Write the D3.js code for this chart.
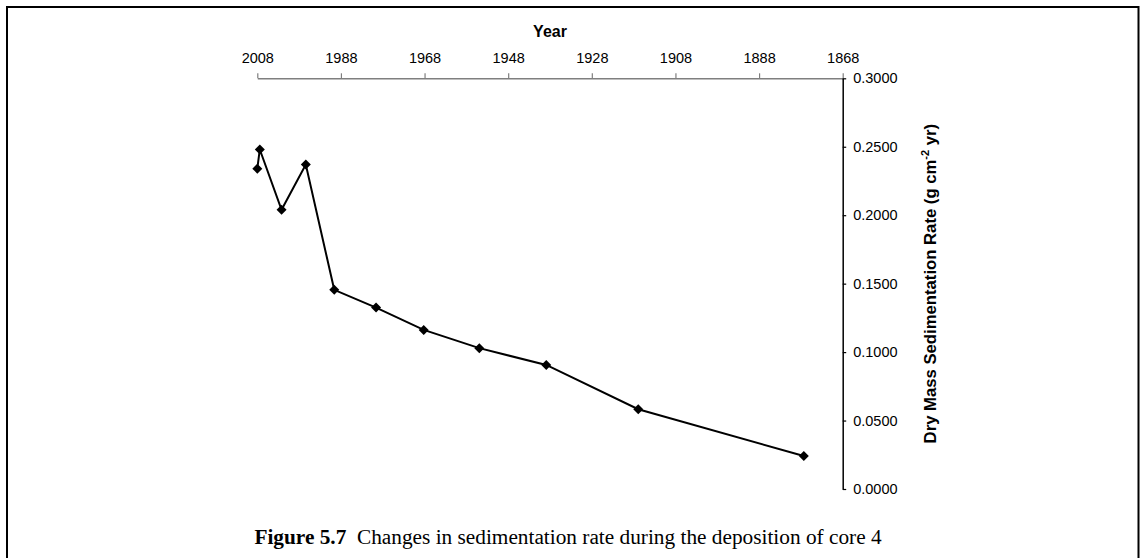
<!DOCTYPE html>
<html>
<head>
<meta charset="utf-8">
<script src="https://cdn.jsdelivr.net/npm/d3@7"></script>
<style>
  html, body { margin: 0; padding: 0; background: #fff; }
  svg { display: block; }
</style>
</head>
<body>
<svg id="chart" width="1140" height="558"></svg>
<script>
// Core 4: sediment age (year) and dry mass sedimentation rate (g cm^-2 yr^-1)
const years = [2008, 2007.4, 2002.2, 1996.4, 1989.6, 1979.6, 1968.2, 1954.9, 1938.9, 1916.9, 1877.3];
const rates = [0.234, 0.248, 0.204, 0.237, 0.1455, 0.1325, 0.1162, 0.1029, 0.0906, 0.0583, 0.0241];

const yearTicks = [2008, 1988, 1968, 1948, 1928, 1908, 1888, 1868];
const rateTicks = [0, 0.05, 0.10, 0.15, 0.20, 0.25, 0.30];

const svg = d3.select("#chart");

// Figure frame (open at the bottom)
svg.append("path")
  .attr("d", "M7,558 V7 H1138.5 V558")
  .attr("fill", "none")
  .attr("stroke", "#000")
  .attr("stroke-width", 2);

const x = d3.scaleLinear().domain([2008, 1868]).range([257.3, 842.7]);
const y = d3.scaleLinear().domain([0, 0.3]).range([489, 78.3]);

// Year axis along the top
const xAxis = svg.append("g")
  .attr("transform", `translate(0,${y(0.3)})`)
  .call(d3.axisTop(x).tickValues(yearTicks).tickFormat(d3.format("d"))
    .tickSize(5).tickSizeOuter(0).tickPadding(10.5));
xAxis.select(".domain").attr("stroke", "#7f7f7f").attr("stroke-width", 1.5);
xAxis.selectAll(".tick line").attr("stroke", "#7f7f7f").attr("stroke-width", 1.2);
xAxis.selectAll(".tick text")
  .attr("fill", "#000")
  .style("font-family", "Arial, 'Liberation Sans', sans-serif")
  .style("font-size", "14.5px");

svg.append("text")
  .attr("x", (x.range()[0] + x.range()[1]) / 2)
  .attr("y", 36.5)
  .attr("text-anchor", "middle")
  .style("font-family", "Arial, 'Liberation Sans', sans-serif")
  .style("font-size", "16px")
  .style("font-weight", "bold")
  .text("Year");

// Rate axis on the right
const yAxis = svg.append("g")
  .attr("transform", `translate(${x(1868)},0)`)
  .call(d3.axisRight(y).tickValues(rateTicks).tickFormat(d3.format(".4f"))
    .tickSize(3.5).tickSizeOuter(0).tickPadding(7));
yAxis.select(".domain").attr("stroke", "#000").attr("stroke-width", 1.5);
yAxis.selectAll(".tick line").attr("stroke", "#000").attr("stroke-width", 1.2);
yAxis.selectAll(".tick text")
  .attr("fill", "#000")
  .style("font-family", "Arial, 'Liberation Sans', sans-serif")
  .style("font-size", "14.5px");

const yTitle = svg.append("text")
  .attr("transform", `translate(935.5,${(y(0) + y(0.3)) / 2}) rotate(-90)`)
  .attr("text-anchor", "middle")
  .style("font-family", "Arial, 'Liberation Sans', sans-serif")
  .style("font-size", "16.7px")
  .style("font-weight", "bold");
yTitle.append("tspan").text("Dry Mass Sedimentation Rate (g cm");
yTitle.append("tspan").attr("dy", -6.5).style("font-size", "11px").text("-2");
yTitle.append("tspan").attr("dy", 6.5).text(" yr)");

// Series line and diamond markers
const pts = years.map((yr, i) => ({ yr, v: rates[i] }));

svg.append("path")
  .datum(pts)
  .attr("fill", "none")
  .attr("stroke", "#000")
  .attr("stroke-width", 2)
  .attr("stroke-linejoin", "miter")
  .attr("d", d3.line().x(d => x(d.yr)).y(d => y(d.v)));

const diamond = d3.symbol().type(d3.symbolSquare).size(50);
svg.append("g").selectAll("path")
  .data(pts)
  .join("path")
  .attr("d", diamond)
  .attr("transform", d => `translate(${x(d.yr)},${y(d.v)}) rotate(45)`)
  .attr("fill", "#000");

// Caption
const cap = svg.append("text")
  .attr("x", 568)
  .attr("y", 544)
  .attr("text-anchor", "middle")
  .attr("xml:space", "preserve")
  .style("white-space", "pre")
  .style("font-family", "'Times New Roman', 'Liberation Serif', serif")
  .style("font-size", "21.3px");
cap.append("tspan").style("font-weight", "bold").text("Figure 5.7");
cap.append("tspan").text("  Changes in sedimentation rate during the deposition of core 4");
</script>
</body>
</html>
